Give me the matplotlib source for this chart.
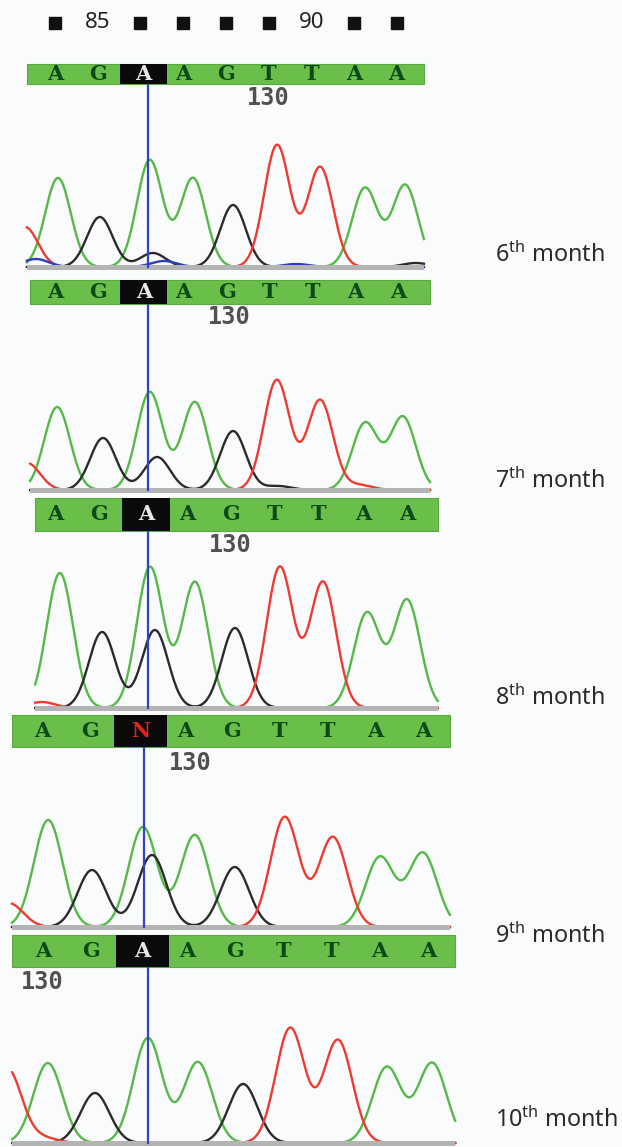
import numpy as np
import matplotlib.pyplot as plt
from matplotlib.patches import Rectangle

plt.rcParams['mathtext.fontset'] = 'custom'
plt.rcParams['mathtext.rm'] = 'Noto Sans'

W, H = 622, 1147

# ---- data ----
months = ['6', '7', '8', '9', '10']
bases = ['A', 'G', 'A', 'A', 'G', 'T', 'T', 'A', 'A']
called = ['A', 'A', 'A', 'N', 'A']          # call at the marked base
header_pos = [84, 85, 86, 87, 88, 89, 90, 91, 92]
header_shown = [85, 90]
label_130_at = [5.0, 4.07, 3.98, 3.11, -0.02]  # where "130" is printed (base index)
cursor_at = [2.18, 2.17, 2.11, 2.14, 2.18]

# peaks: (position in base index, height)
green = [
    [(0.07, 89), (2.22, 107), (3.23, 89), (7.26, 79), (8.20, 82)],
    [(0.05, 83), (2.21, 98), (3.26, 88), (7.23, 67), (8.11, 73)],
    [(0.11, 135), (2.16, 141), (3.18, 126), (7.09, 95), (8.00, 108)],
    [(0.13, 107), (2.12, 100), (3.21, 92), (7.10, 70), (8.00, 74)],
    [(0.10, 80), (2.18, 105), (3.22, 81), (7.15, 76), (8.09, 80)],
]
black = [
    [(1.05, 50), (2.29, 14), (4.17, 62), (8.45, 4)],
    [(1.12, 52), (2.38, 33), (4.15, 59), (5.20, 4)],
    [(1.07, 76), (2.27, 78), (4.09, 80)],
    [(1.05, 57), (2.31, 72), (4.05, 60)],
    [(1.08, 50), (4.16, 59)],
]
red = [
    [(-0.70, 40), (5.20, 122), (6.21, 100)],
    [(-0.65, 27), (5.17, 110), (6.18, 90), (7.10, 5)],
    [(-0.30, 6), (5.11, 141), (6.09, 126)],
    [(-0.70, 24), (5.10, 110), (6.11, 90)],
    [(-0.75, 75), (0.00, 5), (5.14, 115), (6.13, 103)],
]
blue = [
    [(-0.45, 8), (2.55, 6), (5.65, 3)],
    [], [], [], [],
]

# ---- layout (pixels) ----
# x0, dx : pixel of base 0 and spacing; bar top/bottom, baseline, bar extent (base index)
layout = [
    dict(x0=55, dx=42.7, top=64, bot=84, base=267, left=-0.66, right=8.64, lab=98, month=255),
    dict(x0=55, dx=42.9, top=280, bot=304, base=490, left=-0.58, right=8.74, lab=317, month=481),
    dict(x0=55, dx=44.0, top=498, bot=531, base=708, left=-0.45, right=8.70, lab=545, month=698),
    dict(x0=42, dx=47.6, top=715, bot=747, base=927, left=-0.63, right=8.57, lab=763, month=936),
    dict(x0=43, dx=48.1, top=935, bot=967, base=1143, left=-0.64, right=8.57, lab=982, month=1120),
]

bg = '#fafbfc'
bar_green = '#6abf4b'
letter_green = '#0c4a1a'
trace_col = {'g': '#55b947', 'k': '#2b2b2b', 'r': '#ee3b2f', 'b': '#2f3fbf'}
sigma = 0.30

fig = plt.figure(figsize=(W / 100, H / 100), dpi=100, facecolor=bg)


def trace(x, peaks):
    y = np.zeros_like(x)
    for p, h in peaks:
        y += h * np.exp(-(x - p) ** 2 / (2 * sigma ** 2))
    return y


for k, L in enumerate(layout):
    ax = fig.add_axes([0, 0, 1, 1])
    ax.patch.set_alpha(0)
    ax.set_xlim(-L['x0'] / L['dx'], (W - L['x0']) / L['dx'])
    ax.set_ylim(L['base'] - H, L['base'])
    ax.axis('off')

    # sequence bar
    ax.add_patch(Rectangle((L['left'], L['base'] - L['bot']), L['right'] - L['left'],
                           L['bot'] - L['top'], facecolor=bar_green, edgecolor='#5aa83e', lw=0.8))
    ax.add_patch(Rectangle((1.52, L['base'] - L['bot']), 1.1, L['bot'] - L['top'],
                           facecolor='#0a0a0a', edgecolor='none'))
    ymid = L['base'] - (L['top'] + L['bot']) / 2
    for i, b in enumerate(bases):
        if i == 2:
            c = called[k]
            ax.text(2.07, ymid, c, ha='center', va='center', fontsize=15, fontweight='bold',
                    family='DejaVu Serif', color='#e8201c' if c == 'N' else '#e6e6e6')
        else:
            ax.text(i, ymid, b, ha='center', va='center', fontsize=15, fontweight='bold',
                    family='DejaVu Serif', color=letter_green)

    ax.text(label_130_at[k], L['base'] - L['lab'], '130', ha='center', va='center',
            fontsize=17, family='DejaVu Sans Mono', fontweight='bold', color='#505050')

    # traces
    x = np.linspace(L['left'], L['right'], 800)
    for peaks, c in [(green[k], 'g'), (black[k], 'k'), (red[k], 'r'), (blue[k], 'b')]:
        if peaks:
            ax.plot(x, trace(x, peaks), color=trace_col[c], lw=1.7, zorder=3)

    # baseline
    ax.add_patch(Rectangle((L['left'], -3), L['right'] - L['left'], 5.5,
                           facecolor='#b4b4b4', edgecolor='none', zorder=4))
    # cursor
    ax.plot([cursor_at[k], cursor_at[k]], [0, L['base'] - L['bot'] - 1],
            color='#3344c0', lw=1.6, zorder=5)

    fig.text(495 / W, 1 - L['month'] / H, months[k] + r'$^{\mathrm{th}}$ month',
             ha='left', va='center', fontsize=16.8, family='Noto Sans', color='#2a2a2a')

    if k == 0:
        yh = L['base'] - 23
        for i, n in enumerate(header_pos):
            if n in header_shown:
                ax.text(i, yh, str(n), ha='center', va='center', fontsize=16,
                        family='Noto Sans', color='#222222')
            else:
                ax.plot(i, yh, 's', color='#111111', ms=9)

fig.savefig('out.png', dpi=100, facecolor=bg)
